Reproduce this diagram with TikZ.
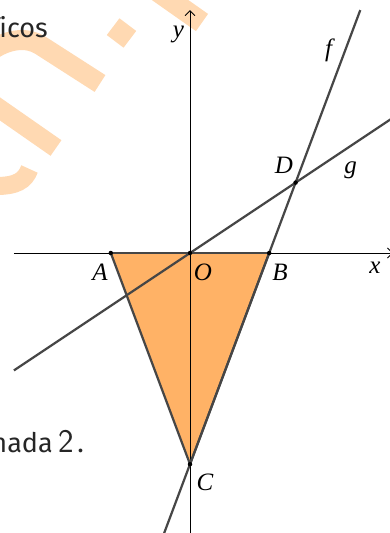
\documentclass[tikz,border=0pt]{standalone}
\usepackage{fontspec}
\setmainfont{Liberation Serif}
\newfontfamily\fira[Ligatures=NoCommon]{Fira Sans}
\usetikzlibrary{arrows.meta}
\definecolor{wm}{RGB}{255,217,178}
\definecolor{tri}{RGB}{255,178,102}
\definecolor{ln}{RGB}{70,70,70}
\begin{document}
\begin{tikzpicture}[x=1pt,y=-1pt,
  wmk/.style={draw=wm,line cap=butt},
  ax/.style={black,line width=0.8pt,-{Straight Barb[length=5pt,width=10pt]}},
  geo/.style={ln,line width=2.2pt},
  pt/.style={circle,fill=black,inner sep=0pt,minimum size=4.5pt},
  lbl/.style={font=\fontsize{25}{25}\selectfont\itshape,inner sep=0pt,anchor=base},
  txt/.style={font=\fira\fontsize{27}{27}\selectfont,text=black!85,inner sep=0pt,anchor=base east}
]
\useasboundingbox (0,0) rectangle (390,533);
% watermark
\draw[wmk,line width=21pt] (153,-12) -- (202,22.5);
\node[fill=wm,minimum size=21pt,inner sep=0pt,rotate=-37] (wdot) at (121.5,33) {};
\draw[wmk,line width=20pt] (100,83.5) -- (40,45) .. controls (28,37.5) and (10,38) .. (-8,50);
\draw[wmk,line width=19pt] (56,148) -- (-10,102);
\draw[wmk,line width=18pt] (29.5,169) .. controls (25,181) and (16,186) .. (-4,186);
% page text
\node[txt] (t1) at (48,37) {ficos};
\node[txt] (t2) at (84,452) {nada\hspace{6pt}{\sffamily\fontsize{33}{33}\selectfont 2}\hspace{3pt}.};
% geometry
\begin{scope}[shift={(190,253)},x=26.4pt,y=26.4pt]
  \coordinate (O) at (0,0);
  \coordinate (A) at (-3,0);
  \coordinate (B) at (3,0);
  \coordinate (C) at (0,-8);
  \coordinate (D) at (4,8/3);
  \coordinate (xs) at (-6.67,0);
  \coordinate (xe) at (7.69,0);
  \coordinate (ys) at (0,-10.7);
  \coordinate (ye) at (0,9.2);
  \coordinate (fs) at (-1.02,-10.72);
  \coordinate (fe) at (6.45,9.2);
  \coordinate (gs) at (-6.67,-4.447);
  \coordinate (ge) at (7.7,5.133);
  \fill[tri] (A) -- (B) -- (C) -- cycle;
  \draw[ax] (xs) -- (xe);
  \draw[ax] (ys) -- (ye);
  \draw[geo] (fs) -- (fe);
  \draw[geo] (gs) -- (ge);
  \draw[geo] (A) -- (B);
  \draw[geo] (A) -- (C);
  \draw[geo] (B) -- (C);
  \foreach \p in {A,B,C,D,O} \node[pt] (p\p) at (\p) {};
\end{scope}
% labels
\node[lbl] (ly) at (178.5,37) {y};
\node[lbl] (lf) at (328.5,56) {f};
\node[lbl] (lD) at (284,173) {D};
\node[lbl] (lg) at (350.5,173.5) {g};
\node[lbl] (lA) at (100,280) {A};
\node[lbl] (lO) at (203,280) {O};
\node[lbl] (lB) at (280,280) {B};
\node[lbl] (lx) at (375,273) {x};
\node[lbl] (lC) at (205,490) {C};
\end{tikzpicture}
\end{document}
